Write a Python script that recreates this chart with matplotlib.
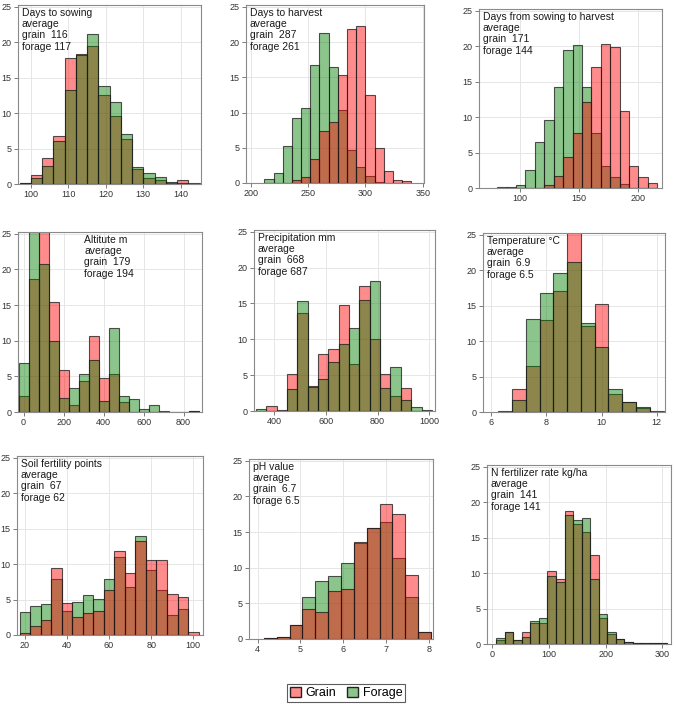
import numpy as np
import matplotlib.pyplot as plt
from matplotlib.patches import Patch

plt.rcParams['font.family'] = ['Liberation Sans', 'DejaVu Sans']

# share of fields (%) per bin
sowing_grain = [0.1, 1.2, 3.6, 6.8, 17.8, 18.4, 19.4, 12.5, 9.6, 6.3, 2.1, 0.8, 0.6, 0.2, 0.5, 0.2]
sowing_forage = [0.2, 0.8, 2.6, 6.0, 13.2, 18.2, 21.2, 13.8, 11.6, 7.1, 2.4, 1.5, 1.0, 0.3, 0.1, 0.0]

harvest_grain = [0.0, 0.0, 0.0, 0.4, 0.9, 3.4, 7.4, 8.6, 15.3, 21.9, 22.3, 12.5, 5.0, 1.7, 0.4, 0.3]
harvest_forage = [0.6, 1.4, 5.3, 9.2, 10.6, 16.8, 21.3, 16.5, 10.3, 4.7, 2.2, 1.0, 0.1, 0.0, 0.0, 0.0]

season_grain = [0.0, 0.0, 0.0, 0.0, 0.0, 0.4, 1.7, 4.4, 7.7, 12.2, 17.1, 20.3, 19.9, 10.9, 3.1, 1.5, 0.7]
season_forage = [0.15, 0.1, 0.4, 2.6, 6.5, 9.6, 14.2, 19.4, 20.2, 14.2, 7.8, 3.1, 1.6, 0.5, 0.0, 0.0, 0.0]

altitude_grain = [2.2, 18.6, 26.0, 15.5, 5.9, 1.0, 4.4, 10.7, 4.8, 5.4, 1.4, 0.0, 0.0, 0.0, 0.0, 0.0, 0.0, 0.1]
altitude_forage = [6.9, 27.0, 20.7, 10.0, 1.9, 3.3, 5.4, 7.3, 1.6, 11.8, 2.3, 1.8, 0.4, 1.0, 0.1, 0.0, 0.0, 0.1]

precip_grain = [0.0, 0.7, 0.1, 5.1, 13.7, 3.5, 8.0, 8.7, 14.8, 6.6, 17.4, 10.1, 5.1, 2.1, 3.2, 0.0, 0.0]
precip_forage = [0.3, 0.0, 0.0, 3.0, 15.3, 3.4, 4.4, 6.9, 9.3, 11.6, 15.5, 18.1, 3.2, 6.1, 1.6, 0.5, 0.1]

temp_grain = [0.0, 3.2, 6.5, 13.0, 17.0, 26.0, 12.2, 15.2, 2.6, 1.4, 0.5, 0.0]
temp_forage = [0.2, 1.7, 13.1, 16.8, 19.6, 21.1, 12.5, 9.2, 3.2, 1.4, 0.7, 0.2]

soil_grain = [0.3, 1.3, 2.1, 9.5, 4.5, 2.5, 3.1, 3.4, 6.4, 11.8, 8.7, 13.3, 10.6, 10.6, 5.8, 5.4, 0.4]
soil_forage = [3.3, 4.1, 4.4, 7.9, 3.4, 4.6, 5.6, 5.1, 7.9, 11.0, 6.8, 14.0, 9.1, 6.3, 2.8, 3.6, 0.0]

ph_grain = [0.1, 0.3, 1.9, 4.2, 3.8, 6.8, 7.0, 13.6, 15.6, 19.0, 17.5, 9.0, 1.0]
ph_forage = [0.1, 0.3, 1.9, 5.9, 8.1, 8.8, 10.6, 13.5, 15.6, 16.4, 11.4, 5.9, 1.0]

nfert_grain = [0.5, 1.7, 0.5, 1.7, 2.9, 2.9, 10.3, 9.2, 18.7, 16.9, 15.8, 12.6, 3.6, 1.4, 0.7, 0.3, 0.1, 0.1, 0.1, 0.1]
nfert_forage = [0.9, 1.7, 0.5, 1.0, 3.3, 3.7, 9.6, 8.8, 18.2, 17.5, 17.8, 9.2, 4.3, 1.7, 0.7, 0.3, 0.2, 0.1, 0.2, 0.1]

titles = [
    "Days to sowing\naverage\ngrain  116\nforage 117",
    "Days to harvest\naverage\ngrain  287\nforage 261",
    "Days from sowing to harvest\naverage\ngrain  171\nforage 144",
    "Altitute m\naverage\ngrain  179\nforage 194",
    "Precipitation mm\naverage\ngrain  668\nforage 687",
    "Temperature °C\naverage\ngrain  6.9\nforage 6.5",
    "Soil fertility points\naverage\ngrain  67\nforage 62",
    "pH value\naverage\ngrain  6.7\nforage 6.5",
    "N fertilizer rate kg/ha\naverage\ngrain  141\nforage 141",
]

RED = (1.0, 0.0, 0.0, 0.45)
GREEN = (0.0, 0.5, 0.0, 0.45)
EDGE = (0.1, 0.1, 0.1, 0.75)

# (grain, forage, first bin edge, bin width, xlim, xticks, grain on top, text x, box in px l,t,r,b)
panels = [
    (sowing_grain, sowing_forage, 97, 3, (96.6, 145.4), [100, 110, 120, 130, 140], False, 0.02, (18, 5, 201, 184)),
    (harvest_grain, harvest_forage, 212, 8, (196, 351), [200, 250, 300, 350], True, 0.02, (246, 5, 424, 183)),
    (season_grain, season_forage, 80.5, 8, (65, 220.5), [100, 150, 200], True, 0.02, (479, 9, 662, 188)),
    (altitude_grain, altitude_forage, -25, 50, (-28, 892), [0, 200, 400, 600, 800], False, 0.36, (18, 232, 202, 412)),
    (precip_grain, precip_forage, 330, 40, (323, 1022), [400, 600, 800, 1000], False, 0.02, (254, 230, 435, 411)),
    (temp_grain, temp_forage, 6.25, 0.5, (5.7, 12.3), [6, 8, 10, 12], False, 0.02, (483, 233, 665, 412)),
    (soil_grain, soil_forage, 17.5, 5, (16.3, 104.6), [20, 40, 60, 80, 100], True, 0.02, (17, 456, 203, 635)),
    (ph_grain, ph_forage, 4.15, 0.3, (3.8, 8.1), [4, 5, 6, 7, 8], True, 0.02, (249, 459, 433, 639)),
    (nfert_grain, nfert_forage, 7.5, 15, (-9, 315), [0, 100, 200, 300], False, 0.02, (487, 465, 671, 644)),
]

W, H = 676, 704
fig = plt.figure(figsize=(W / 100, H / 100), dpi=100)

for (grain, forage, start, width, xlim, xticks, grain_top, tx, box), title in zip(panels, titles):
    l, t, r, b = box
    ax = fig.add_axes([l / W, 1 - b / H, (r - l) / W, (b - t) / H])
    left = start + width * np.arange(len(grain))
    order = [(forage, GREEN), (grain, RED)] if grain_top else [(grain, RED), (forage, GREEN)]
    for vals, col in order:
        ax.bar(left, vals, width=width, align='edge', color=col, edgecolor=EDGE, linewidth=0.8)
    ax.set_xlim(*xlim)
    ax.set_ylim(0, 25.25)
    ax.set_xticks(xticks)
    ax.set_yticks([0, 5, 10, 15, 20, 25])
    ax.set_axisbelow(True)
    ax.grid(True, color='#e6e6e6', linewidth=0.7)
    for s in ax.spines.values():
        s.set_color('#8a8a8a')
        s.set_linewidth(0.8)
    ax.tick_params(length=3, width=0.6, color='#666666', labelsize=6.5,
                   labelcolor='#333333', pad=1.5)
    ax.text(tx, 0.985, title, transform=ax.transAxes, ha='left', va='top',
            fontsize=7.5, color='#1a1a1a', linespacing=1.17)

handles = [Patch(facecolor=RED, edgecolor='#222222', label='Grain'),
           Patch(facecolor=GREEN, edgecolor='#222222', label='Forage')]
leg = fig.legend(handles=handles, loc='center', bbox_to_anchor=(346 / W, 1 - 693 / H),
                 ncol=2, fontsize=9, frameon=True, fancybox=False,
                 handlelength=0.9, handleheight=0.9, handletextpad=0.4,
                 columnspacing=0.8, borderpad=0.2)
leg.get_frame().set_edgecolor('#333333')
leg.get_frame().set_linewidth(0.8)

fig.savefig('out.png', dpi=100)
